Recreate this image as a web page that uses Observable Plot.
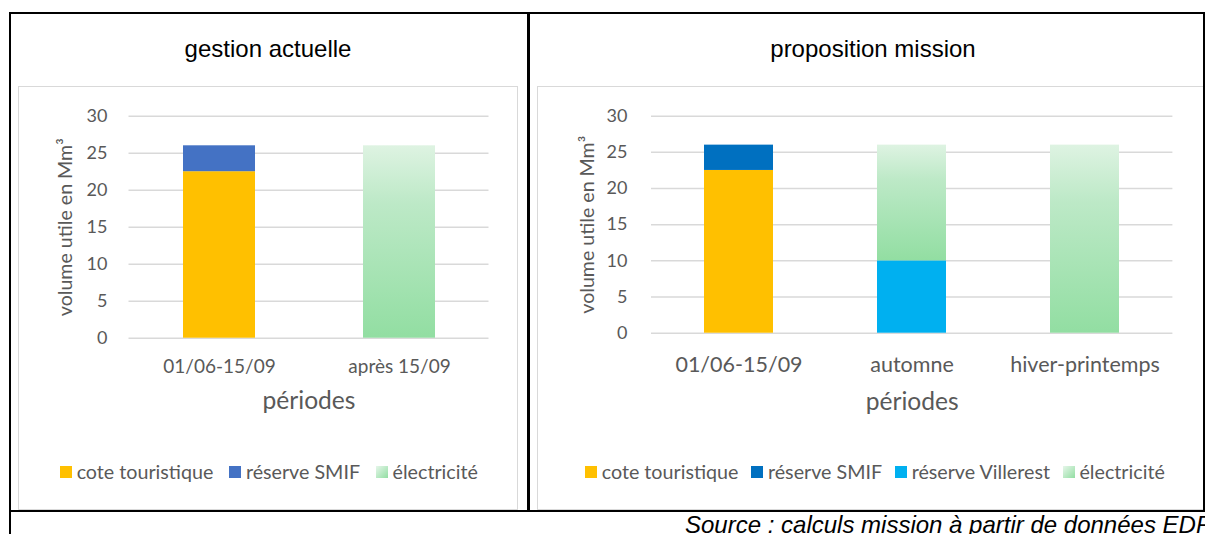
<!DOCTYPE html>
<html>
<head>
<meta charset="utf-8">
<script src="https://cdn.jsdelivr.net/npm/d3@7"></script>
<script src="https://cdn.jsdelivr.net/npm/@observablehq/plot@0.6"></script>
<style>
html, body { margin: 0; padding: 0; background: #fff; width: 1205px; height: 534px; overflow: hidden; position: relative; }
.line { position: absolute; background: #000; }
.box { position: absolute; border: 1.5px solid #d9d9d9; box-sizing: border-box; background: #fff; }
.chart { position: absolute; }
.title { position: absolute; font-family: "Liberation Sans", Arial, sans-serif; font-size: 24px; line-height: 24px; text-align: center; color: #000; white-space: nowrap; }
.legend { position: absolute; display: flex; justify-content: center; align-items: center; font-family: Lato, sans-serif; font-size: 19.7px; color: #595959; white-space: nowrap; height: 24px; line-height: 24px; }
.item { display: flex; align-items: center; }
.sw { width: 12px; height: 12px; margin-right: 4.5px; }
.source { position: absolute; left: 685px; top: 512.7px; font-family: "Liberation Sans", Arial, sans-serif; font-style: italic; font-size: 24px; line-height: 24px; color: #000; white-space: nowrap; }
</style>
</head>
<body>
<svg width="0" height="0" style="position:absolute">
  <defs>
    <linearGradient id="elecGrad" x1="0" y1="0" x2="0" y2="1">
      <stop offset="0" stop-color="#def3e2"/>
      <stop offset="0.3" stop-color="#bde9c7"/>
      <stop offset="1" stop-color="#92dea2"/>
    </linearGradient>
  </defs>
</svg>

<div class="box" style="left:18px; top:86px; width:500px; height:424px;"></div>
<div class="box" style="left:537px; top:86px; width:667px; height:424px;"></div>

<div class="line" style="left:9px; top:12px; width:1196px; height:2px;"></div>
<div class="line" style="left:9px; top:12px; width:2px; height:522px;"></div>
<div class="line" style="left:527px; top:12px; width:2.5px; height:499px;"></div>
<div class="line" style="left:1203px; top:12px; width:2px; height:499px;"></div>
<div class="line" style="left:9px; top:510px; width:1196px; height:1.5px;"></div>

<div class="title" id="title1" style="left:18px; top:37.2px; width:500px;"></div>
<div class="title" id="title2" style="left:540px; top:37.2px; width:666px;"></div>

<div class="chart" id="chart1" style="left:18px; top:86px;"></div>
<div class="chart" id="chart2" style="left:537px; top:86px;"></div>

<div class="legend" id="legend1" style="left:19px; top:460px; width:500px;"></div>
<div class="legend" id="legend2" style="left:542px; top:460px; width:666px;"></div>

<div class="source" id="source"></div>

<script>
// ---- Data ----
const titleActuelle = "gestion actuelle";
const titleMission = "proposition mission";
const yLabel = "volume utile en Mm³";
const xLabel = "périodes";
const sourceText = "Source : calculs mission à partir de données EDF";

const periodesActuelle = ["01/06-15/09", "après 15/09"];
const seriesActuelle = ["cote touristique", "réserve SMIF", "électricité"];
const actuelleCote = [22.5, 0];
const actuelleSMIF = [3.5, 0];
const actuelleElec = [0, 26];
const colorsActuelle = ["#ffc000", "#4472c4", "url(#elecGrad)"];

const periodesMission = ["01/06-15/09", "automne", "hiver-printemps"];
const seriesMission = ["cote touristique", "réserve SMIF", "réserve Villerest", "électricité"];
const missionCote = [22.5, 0, 0];
const missionSMIF = [3.5, 0, 0];
const missionVillerest = [0, 10, 0];
const missionElec = [0, 16, 26];
const colorsMission = ["#ffc000", "#0070c0", "#00b0f0", "url(#elecGrad)"];

const yTicks = [0, 5, 10, 15, 20, 25, 30];
const legendSwatchElec = "linear-gradient(135deg, #e6f6ea, #92dea2)";

// ---- Chart builder ----
function makeChart(cfg) {
  const rows = [];
  cfg.series.forEach((s, si) => cfg.periodes.forEach((p, pi) => {
    const v = cfg.values[si][pi];
    if (v > 0) rows.push({periode: p, serie: s, value: v});
  }));
  return Plot.plot({
    width: cfg.width,
    height: cfg.height,
    marginLeft: cfg.marginLeft,
    marginRight: cfg.marginRight,
    marginTop: cfg.marginTop,
    marginBottom: cfg.marginBottom,
    style: {fontFamily: "Lato, sans-serif", fontSize: "18px", color: "#595959", background: "none", overflow: "visible"},
    x: {domain: cfg.periodes, paddingInner: 0.6, paddingOuter: 0.3, label: null},
    y: {domain: [0, 30], label: null},
    color: {domain: cfg.series, range: cfg.colors},
    marks: [
      Plot.gridY(yTicks, {stroke: "#d9d9d9", strokeOpacity: 1, strokeWidth: 1.5}),
      Plot.axisY({ticks: yTicks, tickSize: 0, tickPadding: cfg.tickPadY, label: null, fontSize: 18}),
      Plot.axisX({tickSize: 0, tickPadding: cfg.tickPadX, label: null, fontSize: cfg.xTickSize}),
      Plot.barY(rows, {x: "periode", y: "value", fill: "serie"}),
      Plot.text([yLabel], {text: d => d, frameAnchor: "left", textAnchor: "middle", rotate: -90, dx: cfg.yLabelDx, fontSize: 19.6, fill: "#595959"}),
      Plot.text([xLabel], {text: d => d, frameAnchor: "bottom", textAnchor: "middle", dy: cfg.xLabelDy, fontSize: 24.6, fill: "#595959"})
    ]
  });
}

function makeLegend(el, series, colors, gap) {
  series.forEach((s, i) => {
    const item = document.createElement("div");
    item.className = "item";
    if (i < series.length - 1) item.style.marginRight = gap + "px";
    const sw = document.createElement("div");
    sw.className = "sw";
    sw.style.background = colors[i].startsWith("url") ? legendSwatchElec : colors[i];
    const t = document.createElement("span");
    t.textContent = s;
    item.appendChild(sw);
    item.appendChild(t);
    el.appendChild(item);
  });
}

document.getElementById("title1").textContent = titleActuelle;
document.getElementById("title2").textContent = titleMission;
document.getElementById("source").textContent = sourceText;

document.getElementById("chart1").appendChild(makeChart({
  periodes: periodesActuelle, series: seriesActuelle,
  values: [actuelleCote, actuelleSMIF, actuelleElec], colors: colorsActuelle,
  width: 500, height: 423, marginLeft: 110.5, marginRight: 29.5, marginTop: 29.7, marginBottom: 171.3,
  tickPadY: 21.5, tickPadX: 21, xTickSize: 19, yLabelDx: -63.5, xLabelDy: 71
}));

document.getElementById("chart2").appendChild(makeChart({
  periodes: periodesMission, series: seriesMission,
  values: [missionCote, missionSMIF, missionVillerest, missionElec], colors: colorsMission,
  width: 666, height: 423, marginLeft: 114, marginRight: 30.6, marginTop: 29.7, marginBottom: 176.3,
  tickPadY: 24, tickPadX: 24, xTickSize: 21.5, yLabelDx: -64, xLabelDy: 77
}));

makeLegend(document.getElementById("legend1"), seriesActuelle, colorsActuelle, 16);
makeLegend(document.getElementById("legend2"), seriesMission, colorsMission, 13);
</script>
</body>
</html>
